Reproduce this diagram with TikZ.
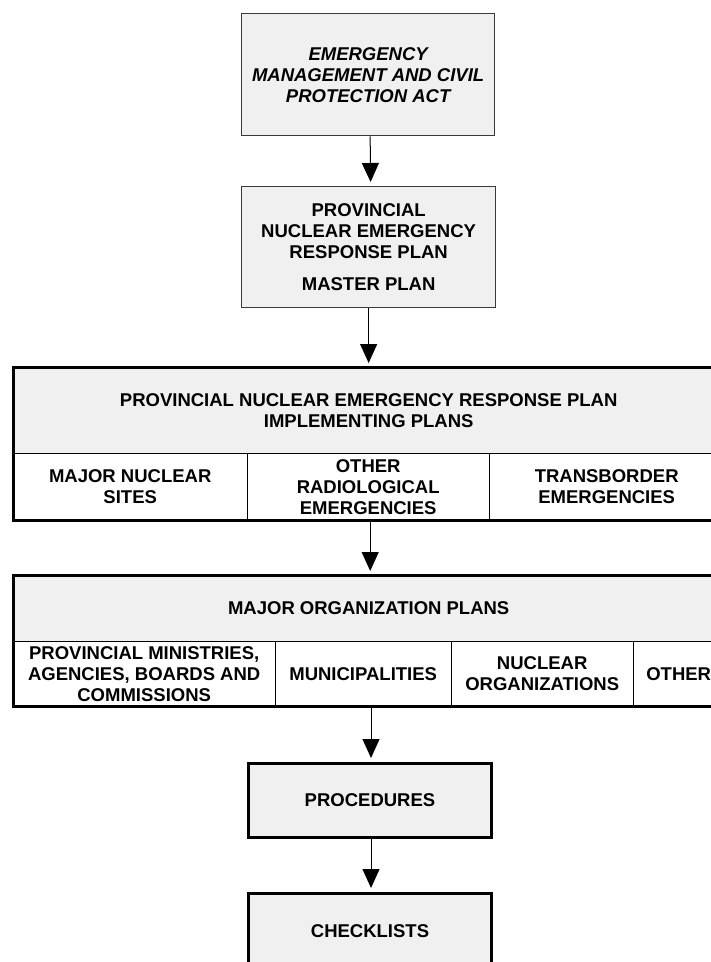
\documentclass[tikz,border=0pt]{standalone}
\usepackage{fontspec}
\setmainfont{Liberation Sans}
\usetikzlibrary{arrows.meta}
\definecolor{boxgray}{HTML}{F0F0F0}
\definecolor{thinline}{HTML}{3A3A3A}
\begin{document}
\begin{tikzpicture}[x=1pt,y=-1pt,
  lbl/.style={font=\fontsize{18.5}{21}\selectfont\bfseries, align=center, inner sep=0pt},
  thinbox/.style={lbl, draw=thinline, line width=1.3pt, fill=boxgray, anchor=north west},
  thickbox/.style={lbl, draw=black, line width=3pt, fill=boxgray, anchor=north west},
  hdr/.style={lbl, fill=boxgray, anchor=north west},
  cell/.style={lbl, fill=white, anchor=north west},
  inner/.style={line width=1.4pt, draw=black},
  outer/.style={line width=3pt, draw=black},
  conn/.style={line width=1pt, draw=black, -{Triangle[width=17pt,length=19pt]}, shorten >=4pt}
]
\useasboundingbox (0,0) rectangle (711,962);
\clip (0,0) rectangle (711,962);

% top boxes
\node[thinbox, minimum width=253, minimum height=122] (act) at (241,13)
  {\itshape EMERGENCY\\ \itshape MANAGEMENT AND CIVIL\\ \itshape PROTECTION ACT};
\node[thinbox, minimum width=254, minimum height=121] (master) at (241,186)
  {PROVINCIAL\\ NUCLEAR EMERGENCY\\ RESPONSE PLAN\\[11pt] MASTER PLAN};

% implementing plans table
\node[hdr, minimum width=711, minimum height=86] (imp) at (13,367)
  {PROVINCIAL NUCLEAR EMERGENCY RESPONSE PLAN\\ IMPLEMENTING PLANS};
\node[cell, minimum width=234, minimum height=67] (sites) at (13,453)
  {MAJOR NUCLEAR\\ SITES};
\node[cell, minimum width=242, minimum height=67] (radio) at (247,453)
  {OTHER\\ RADIOLOGICAL\\ EMERGENCIES};
\node[cell, minimum width=235, minimum height=67] (trans) at (489,453)
  {TRANSBORDER\\ EMERGENCIES};
\draw[inner] (imp.south west) -- (imp.south east);
\draw[inner] (sites.north east) -- (sites.south east);
\draw[inner] (radio.north east) -- (radio.south east);
\draw[outer] (imp.north west) rectangle (trans.south east);

% major organization plans table
\node[hdr, minimum width=711, minimum height=66] (org) at (13,575)
  {MAJOR ORGANIZATION PLANS};
\node[cell, minimum width=262, minimum height=65] (prov) at (13,641)
  {PROVINCIAL MINISTRIES,\\ AGENCIES, BOARDS AND\\ COMMISSIONS};
\node[cell, minimum width=176, minimum height=65] (muni) at (275,641)
  {MUNICIPALITIES};
\node[cell, minimum width=182, minimum height=65] (nucorg) at (451,641)
  {NUCLEAR\\ ORGANIZATIONS};
\node[cell, minimum width=91, minimum height=65] (other) at (633,641)
  {OTHER};
\draw[inner] (org.south west) -- (org.south east);
\draw[inner] (prov.north east) -- (prov.south east);
\draw[inner] (muni.north east) -- (muni.south east);
\draw[inner] (nucorg.north east) -- (nucorg.south east);
\draw[outer] (org.north west) rectangle (other.south east);

% bottom boxes
\node[thickbox, minimum width=243, minimum height=74] (proc) at (247,762)
  {PROCEDURES};
\node[thickbox, minimum width=243, minimum height=76] (check) at (247,892)
  {CHECKLISTS};

% connectors
\draw[conn] ([xshift=2pt]act.south) -- ([xshift=2pt]master.north);
\draw[conn] ([xshift=0pt]master.south) -- ([xshift=0pt]master.south |- imp.north);
\draw[conn] ([xshift=2pt]radio.south) -- ([xshift=2pt]radio.south |- org.north);
\draw[conn] ([xshift=1pt]muni.south west -| proc.north) -- ([xshift=1pt]proc.north);
\draw[conn] ([xshift=1pt]proc.south) -- ([xshift=1pt]check.north);
\end{tikzpicture}
\end{document}
